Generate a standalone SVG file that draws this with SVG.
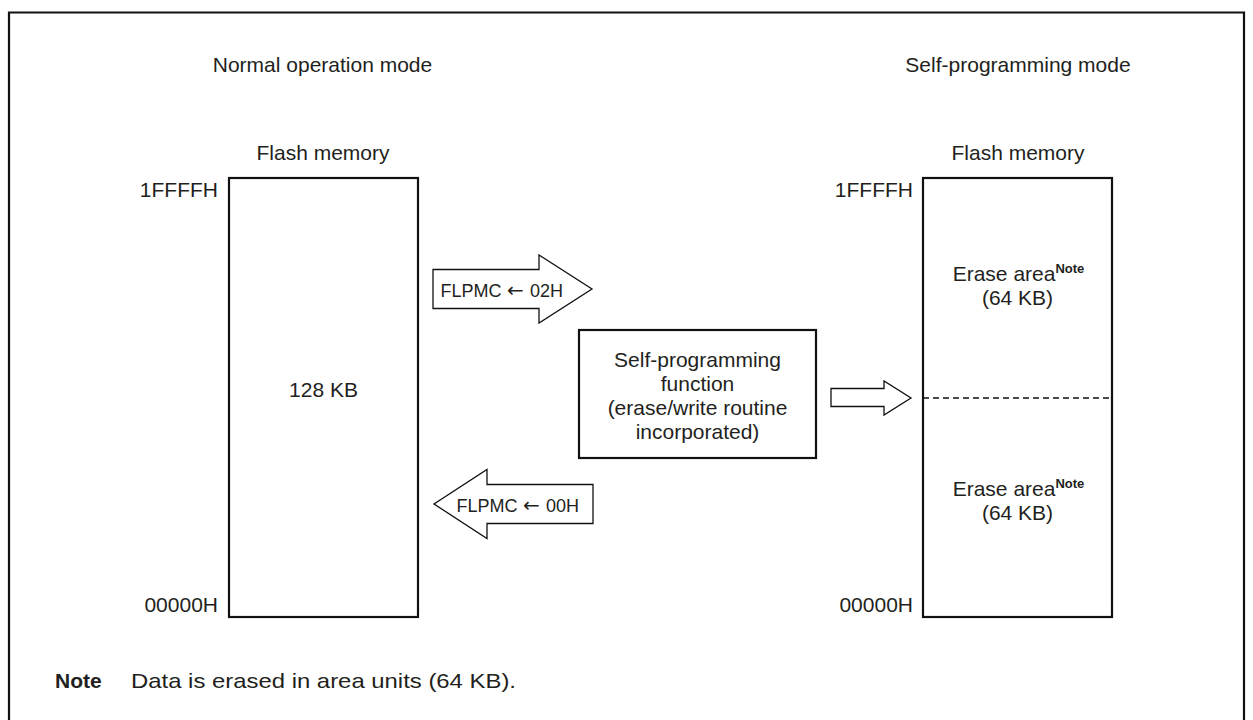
<svg xmlns="http://www.w3.org/2000/svg" width="1253" height="720" viewBox="0 0 1253 720">
<style>
text{font-family:"Liberation Sans",Arial,sans-serif;font-size:21px;fill:#231f20}
.c{text-anchor:middle}
.r{text-anchor:end}
.s{font-size:18px}
.ar{font-family:"DejaVu Sans",sans-serif;font-size:20px}
.sup{font-size:13px;font-weight:bold}
.b{font-weight:bold}
.box{fill:#fff;stroke:#111;stroke-width:2.2}
.arr{fill:#fff;stroke:#111;stroke-width:1.3;stroke-linejoin:miter}
</style>
<rect width="1253" height="720" fill="#fff"/>
<path d="M9,720 V12.5 H1244 V720" fill="none" stroke="#111" stroke-width="2.2"/>
<text class="c" x="322.5" y="72">Normal operation mode</text>
<text class="c" x="1018" y="72">Self-programming mode</text>
<g id="left-memory">
<text class="c" x="323" y="160">Flash memory</text>
<rect class="box" x="229" y="178" width="189" height="439"/>
<text class="r" x="218" y="197">1FFFFH</text>
<text class="r" x="218" y="612">00000H</text>
<text class="c" x="323.5" y="397">128 KB</text>
</g>
<g id="right-memory">
<text class="c" x="1018" y="160">Flash memory</text>
<rect class="box" x="923" y="178" width="189" height="439"/>
<line x1="923" y1="398" x2="1112" y2="398" stroke="#111" stroke-width="1.3" stroke-dasharray="6 4"/>
<text class="r" x="913" y="197">1FFFFH</text>
<text class="r" x="913" y="612">00000H</text>
<text class="c" x="1018.5" y="281">Erase area<tspan class="sup" dy="-8.5">Note</tspan></text>
<text class="c" x="1017.5" y="305">(64 KB)</text>
<text class="c" x="1018.5" y="496">Erase area<tspan class="sup" dy="-8.5">Note</tspan></text>
<text class="c" x="1017.5" y="520">(64 KB)</text>
</g>
<g id="self-programming-function">
<rect class="box" x="579" y="330" width="237" height="128"/>
<text class="c" x="697.5" y="366.5">Self-programming</text>
<text class="c" x="697.5" y="390.5">function</text>
<text class="c" x="697.5" y="414.5">(erase/write routine</text>
<text class="c" x="697.5" y="438.5">incorporated)</text>
</g>
<g id="connectors">
<g id="arrow-02H">
<path class="arr" d="M433,269.5 H539 V255 L592,289 L539,323 V308.5 H433 Z"/>
<text class="s" y="296.5"><tspan x="440.5">FLPMC</tspan><tspan class="ar" x="507">←</tspan><tspan x="530">02H</tspan></text>
</g>
<g id="arrow-00H">
<path class="arr" d="M593,484.5 H487 V469.5 L434,504 L487,538.5 V523.5 H593 Z"/>
<text class="s" y="511.5"><tspan x="456.5">FLPMC</tspan><tspan class="ar" x="523">←</tspan><tspan x="546">00H</tspan></text>
</g>
<path class="arr" d="M831,388.5 H884 V381 L911,398 L884,415 V406.5 H831 Z"/>
</g>
<g id="note">
<text class="b" x="55" y="688" font-size="22.5">Note</text>
<text x="131" y="688" font-size="22" textLength="385" lengthAdjust="spacingAndGlyphs">Data is erased in area units (64 KB).</text>
</g>
</svg>
